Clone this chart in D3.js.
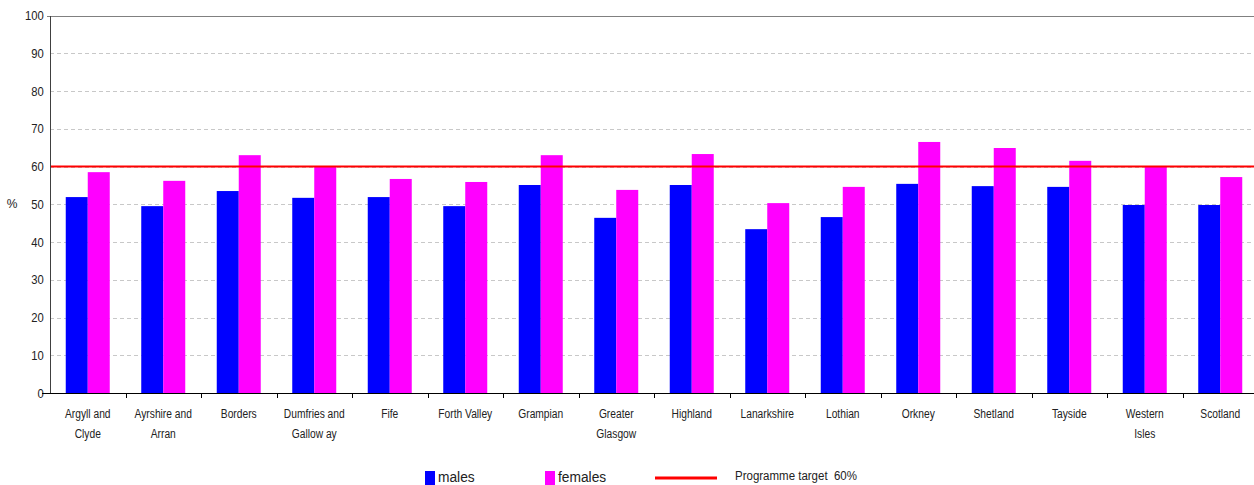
<!DOCTYPE html>
<html>
<head>
<meta charset="utf-8">
<script src="https://cdn.jsdelivr.net/npm/d3@7"></script>
<style>
  html, body { margin: 0; padding: 0; background: #fff; }
  svg { display: block; font-family: "Liberation Sans", Arial, sans-serif; }
</style>
</head>
<body>
<svg id="chart" width="1254" height="485"></svg>
<script>
// Health board areas (label lines split for wrapping under the axis)
const categories = [
  ["Argyll and", "Clyde"], ["Ayrshire and", "Arran"], ["Borders"], ["Dumfries and", "Gallow ay"],
  ["Fife"], ["Forth Valley"], ["Grampian"], ["Greater", "Glasgow"],
  ["Highland"], ["Lanarkshire"], ["Lothian"], ["Orkney"],
  ["Shetland"], ["Tayside"], ["Western", "Isles"], ["Scotland"]
];
const males   = [51.9, 49.5, 53.5, 51.7, 51.9, 49.5, 55.1, 46.4, 55.1, 43.4, 46.6, 55.4, 54.8, 54.6, 49.8, 49.8];
const females = [58.5, 56.2, 63.0, 60.1, 56.7, 55.9, 63.0, 53.8, 63.3, 50.3, 54.6, 66.5, 64.9, 61.5, 60.1, 57.2];
const target = 60;
const yTicks = [0, 10, 20, 30, 40, 50, 60, 70, 80, 90, 100];
const seriesNames = ["males", "females"];
const seriesColors = ["#0000ff", "#ff00ff"];

const svg = d3.select("#chart");
const plotLeft = 50, plotRight = 1258, plotTop = 15.5, plotBottom = 393;

const keys = categories.map((c, i) => i);
const x = d3.scaleBand().domain(keys).range([plotLeft, plotRight]).paddingInner(0).paddingOuter(0);
const inner = d3.scaleBand().domain([0, 1]).range([0, 44]);
const y = d3.scaleLinear().domain([0, 100]).range([plotBottom, plotTop]);

// gridlines
svg.append("g").selectAll("line")
  .data(yTicks.filter(t => t > 0 && t < 100))
  .join("line")
  .attr("x1", plotLeft).attr("x2", plotRight)
  .attr("y1", d => Math.round(y(d)) + 0.5).attr("y2", d => Math.round(y(d)) + 0.5)
  .attr("stroke", "#c8c8c8").attr("stroke-width", 1)
  .attr("stroke-dasharray", "4,3");

// top border of plot area
svg.append("line")
  .attr("x1", plotLeft - 3).attr("x2", plotRight)
  .attr("y1", Math.round(y(100)) + 0.5).attr("y2", Math.round(y(100)) + 0.5)
  .attr("stroke", "#808080").attr("stroke-width", 1);

// bars
const bw = inner.bandwidth();
const groups = svg.append("g").selectAll("g")
  .data(keys)
  .join("g")
  .attr("transform", d => `translate(${x(d) + x.bandwidth() / 2 - 22},0)`);

groups.selectAll("rect")
  .data(d => [males[d], females[d]])
  .join("rect")
  .attr("x", (d, i) => inner(i))
  .attr("width", bw)
  .attr("y", d => y(d))
  .attr("height", d => plotBottom - y(d))
  .attr("fill", (d, i) => seriesColors[i]);

// target line
svg.append("line")
  .attr("x1", plotLeft).attr("x2", plotRight)
  .attr("y1", y(target)).attr("y2", y(target))
  .attr("stroke", "#ff0000").attr("stroke-width", 2);

// y axis
const yAxis = svg.append("g")
  .attr("transform", `translate(${plotLeft},0)`)
  .call(d3.axisLeft(y).tickValues(yTicks).tickSize(0).tickPadding(7));
yAxis.select(".domain").attr("stroke", "#404040");
yAxis.selectAll("text")
  .attr("font-size", "12.5px")
  .attr("fill", "#222")
  .attr("font-family", "Liberation Sans, Arial, sans-serif")
  .attr("transform", "scale(0.9,1)");

svg.append("text")
  .attr("x", 12).attr("y", y(50) + 4)
  .attr("text-anchor", "middle")
  .attr("font-size", "12px").attr("fill", "#222")
  .text("%");

// x axis line and category separators
svg.append("line")
  .attr("x1", plotLeft - 8).attr("x2", plotRight)
  .attr("y1", plotBottom + 0.5).attr("y2", plotBottom + 0.5)
  .attr("stroke", "#000").attr("stroke-width", 1);
svg.append("g").selectAll("line")
  .data(keys.slice(1))
  .join("line")
  .attr("x1", d => Math.round(x(d)) + 0.5).attr("x2", d => Math.round(x(d)) + 0.5)
  .attr("y1", plotBottom).attr("y2", plotBottom + 5)
  .attr("stroke", "#000");

// category labels
const labels = svg.append("g").selectAll("text")
  .data(keys)
  .join("text")
  .attr("transform", d => `translate(${x(d) + x.bandwidth() / 2},418) scale(0.82,1)`)
  .attr("text-anchor", "middle")
  .attr("font-size", "12.5px").attr("fill", "#222");
labels.selectAll("tspan")
  .data(d => categories[d])
  .join("tspan")
  .attr("x", 0)
  .attr("dy", (d, i) => i === 0 ? 0 : 20)
  .text(d => d);

// legend
const legend = svg.append("g");
const legendX = [425, 545];
seriesNames.forEach((name, i) => {
  legend.append("rect")
    .attr("x", legendX[i]).attr("y", 471)
    .attr("width", 10).attr("height", 14)
    .attr("fill", seriesColors[i]);
  legend.append("text")
    .attr("transform", `translate(${legendX[i] + 13},482) scale(0.95,1)`)
    .attr("font-size", "14.5px").attr("fill", "#222")
    .text(name);
});
legend.append("line")
  .attr("x1", 655).attr("x2", 717)
  .attr("y1", 478).attr("y2", 478)
  .attr("stroke", "#ff0000").attr("stroke-width", 3);
legend.append("text")
  .attr("transform", "translate(735,480) scale(0.92,1)")
  .attr("font-size", "12.5px").attr("fill", "#222")
  .attr("xml:space", "preserve")
  .text("Programme target  60%");
</script>
</body>
</html>
